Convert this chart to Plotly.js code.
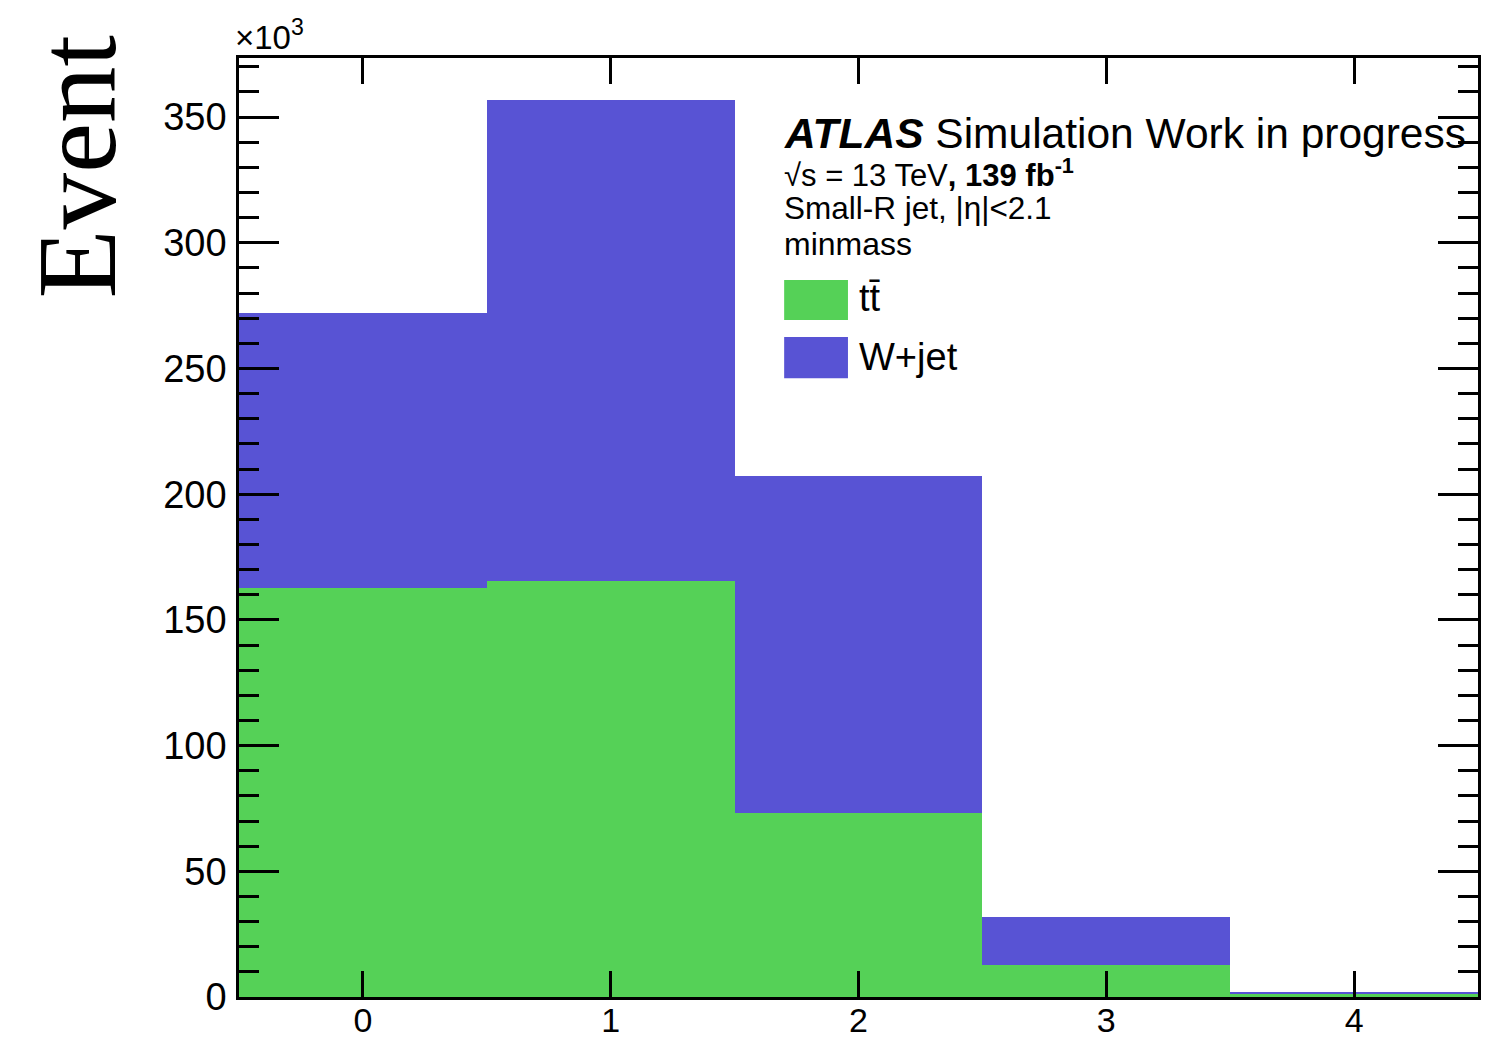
<!DOCTYPE html>
<html>
<head>
<meta charset="utf-8">
<script src="https://cdn.plot.ly/plotly-3.0.1.min.js"></script>
<style>html,body{margin:0;padding:0;background:#fff;}#chart{width:1486px;height:1041px;}</style>
</head>
<body>
<div id="chart"></div>
<script>
// Data (values in units of 10^3 events)
const binCenters = [0, 1, 2, 3, 4];
const ttbarValues = [162.6, 165.5, 73.2, 12.6, 1.5];
const wjetValues = [109.5, 191.3, 134.0, 19.1, 0.6];
const seriesNames = ["tt\u0304", "W+jet"];
const seriesColors = ["#55d157", "#5853d4"];
const yTickVals = [0, 50, 100, 150, 200, 250, 300, 350];
const xTickVals = [0, 1, 2, 3, 4];

const font = "Liberation Sans, Arial, Helvetica, sans-serif";

const traces = [
  {type: "bar", x: binCenters, y: ttbarValues, name: seriesNames[0], width: 1,
   marker: {color: seriesColors[0], line: {width: 0}}, showlegend: false, hoverinfo: "x+y"},
  {type: "bar", x: binCenters, y: wjetValues, name: seriesNames[1], width: 1,
   marker: {color: seriesColors[1], line: {width: 0}}, showlegend: false, hoverinfo: "x+y"}
];

const layout = {
  width: 1486, height: 1041,
  margin: {l: 239, r: 8, t: 58, b: 44, pad: 0},
  paper_bgcolor: "#fff", plot_bgcolor: "#fff",
  barmode: "stack", bargap: 0,
  font: {family: font, color: "#000"},
  xaxis: {
    range: [-0.5, 4.5], tickvals: xTickVals, ticktext: xTickVals.map(String),
    ticks: "inside", ticklen: 26, tickwidth: 2.5, tickcolor: "#000",
    showline: true, linecolor: "#000", linewidth: 2.5, mirror: "ticks",
    showgrid: false, zeroline: false, ticklabelstandoff: -9,
    tickfont: {family: font, size: 34, color: "#000"}
  },
  yaxis: {
    range: [0, 373.5], tickvals: yTickVals, ticktext: yTickVals.map(String),
    ticks: "inside", ticklen: 40, tickwidth: 2.5, tickcolor: "#000",
    minor: {dtick: 10, ticks: "inside", ticklen: 20, tickwidth: 2.5, tickcolor: "#000", showgrid: false},
    showline: true, linecolor: "#000", linewidth: 2.5, mirror: "ticks",
    showgrid: false, zeroline: false, ticklabelstandoff: 2,
    tickfont: {family: font, size: 38, color: "#000"}
  },
  shapes: [
    {type: "rect", xref: "paper", yref: "paper", x0: 0.44, x1: 0.4915, y0: 0.721, y1: 0.7636,
     fillcolor: seriesColors[0], line: {width: 0}},
    {type: "rect", xref: "paper", yref: "paper", x0: 0.44, x1: 0.4915, y0: 0.659, y1: 0.703,
     fillcolor: seriesColors[1], line: {width: 0}}
  ],
  annotations: [
    {xref: "paper", yref: "paper", x: 0.438, y: 0.920, xanchor: "left", yanchor: "middle", showarrow: false,
     text: "<b><i>ATLAS</i></b> Simulation Work in progress", font: {family: font, size: 42.5, color: "#000"}},
    {xref: "paper", yref: "paper", x: 0.438, y: 0.878, xanchor: "left", yanchor: "middle", showarrow: false,
     text: "\u221As = 13 TeV<b>, 139 fb<sup>-1</sup></b>", font: {family: font, size: 31, color: "#000"}},
    {xref: "paper", yref: "paper", x: 0.438, y: 0.840, xanchor: "left", yanchor: "middle", showarrow: false,
     text: "Small-R jet, |\u03B7|&lt;2.1", font: {family: font, size: 31.5, color: "#000"}},
    {xref: "paper", yref: "paper", x: 0.438, y: 0.802, xanchor: "left", yanchor: "middle", showarrow: false,
     text: "minmass", font: {family: font, size: 32, color: "#000"}},
    {xref: "paper", yref: "paper", x: 0.4985, y: 0.744, xanchor: "left", yanchor: "middle", showarrow: false,
     text: seriesNames[0], font: {family: font, size: 38, color: "#000"}},
    {xref: "paper", yref: "paper", x: 0.4985, y: 0.682, xanchor: "left", yanchor: "middle", showarrow: false,
     text: seriesNames[1], font: {family: font, size: 38, color: "#000"}},
    {xref: "paper", yref: "paper", x: -0.005, y: 1.0, xanchor: "left", yanchor: "bottom", showarrow: false,
     text: "\u00D710<sup>3</sup>", font: {family: font, size: 33, color: "#000"}},
    {xref: "paper", yref: "paper", x: -0.131, y: 0.884, xanchor: "center", yanchor: "middle", showarrow: false,
     textangle: -90, text: "Event", font: {family: "Liberation Serif, Times New Roman, serif", size: 113, color: "#000"}}
  ]
};

Plotly.newPlot("chart", traces, layout, {displayModeBar: false, staticPlot: false});
</script>
</body>
</html>
